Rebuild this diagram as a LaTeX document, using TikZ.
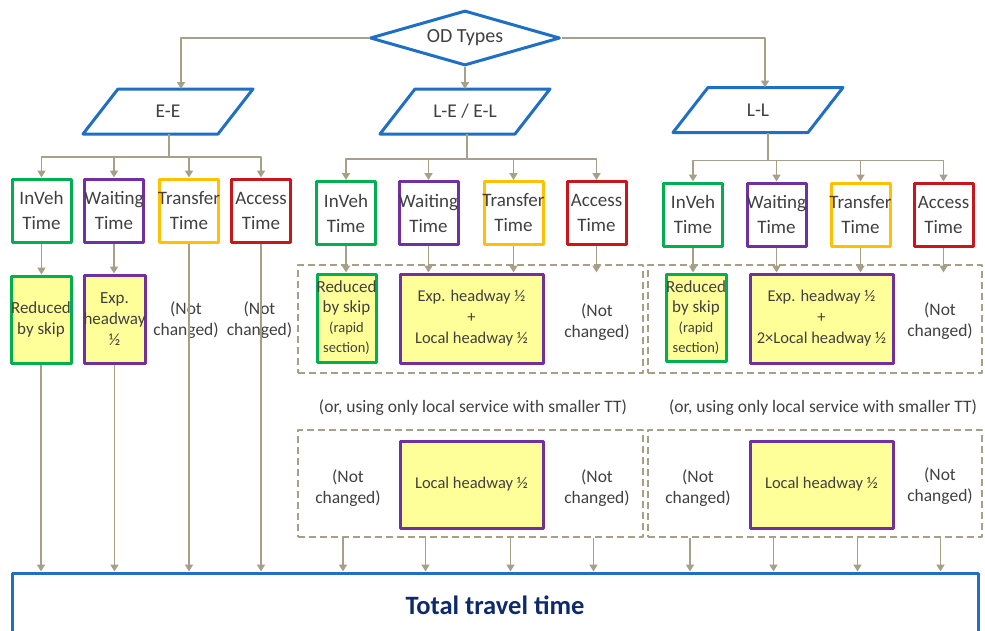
\documentclass[tikz,border=0pt]{standalone}
\usepackage{fontspec}
\setmainfont{Carlito}
\usetikzlibrary{arrows.meta,shapes.geometric}

\definecolor{flowblue}{HTML}{1F6FC4}
\definecolor{linetan}{HTML}{A79F88}
\definecolor{ingreen}{HTML}{00B050}
\definecolor{waitpurple}{HTML}{7030A0}
\definecolor{transorange}{HTML}{FFC000}
\definecolor{accred}{HTML}{C8161D}
\definecolor{hiyellow}{HTML}{FFFF99}
\definecolor{txtgray}{HTML}{404040}
\definecolor{totalnavy}{HTML}{0D2A6B}

\begin{document}
\begin{tikzpicture}[
  x=1pt, y=-1pt,
  line join=round,
  every node/.style={text=txtgray},
  conn/.style={draw=linetan, line width=1.9pt, -{Triangle[length=7pt,width=8pt]}},
  link/.style={draw=linetan, line width=1.9pt},
  decision/.style={diamond, aspect=3.45, draw=flowblue, line width=3pt,
    minimum width=190pt, minimum height=55pt, inner sep=0pt,
    font=\fontsize{20}{24}\selectfont},
  odtype/.style={minimum width=170pt, minimum height=45pt, inner sep=0pt,
    outer sep=0pt, font=\fontsize{19.5}{24}\selectfont},
  slanted/.style={draw=flowblue, line width=3pt},
  timebox/.style={draw=#1, line width=3pt, minimum width=59pt,
    minimum height=63pt, inner sep=0pt, align=center,
    font=\fontsize{19}{25}\selectfont},
  effbox/.style={draw=#1, fill=hiyellow, line width=3pt, inner sep=0pt,
    align=center, font=\fontsize{16.5}{21}\selectfont},
  note/.style={align=center, inner sep=0pt, font=\fontsize{17.5}{21}\selectfont},
  option/.style={draw=linetan, line width=2.4pt, dash pattern=on 7pt off 4pt,
    inner sep=0pt}
]
  \clip (0,0) rectangle (985,630);

  % OD types
  \node[decision] (od) at (465,38) {OD Types};
  \node[odtype] (ee) at (168,111.5) {E-E};
  \node[odtype] (lel) at (465,111.5) {L-E / E-L};
  \node[odtype] (ll) at (758,110) {L-L};
  \foreach \n in {ee,lel,ll}
    \draw[slanted] ([xshift=35pt]\n.north west) -- (\n.north east)
      -- ([xshift=-35pt]\n.south east) -- (\n.south west) -- cycle;

  \draw[conn] (od.west) -| ([xshift=13pt]ee.north);
  \draw[conn] (od.south) -- (lel.north);
  \draw[conn] (od.east) -| ([xshift=7pt]ll.north);

  % Time components, E-E
  \node[timebox=ingreen] (eeIn) at (41.5,210.5) {InVeh\\Time};
  \node[timebox=waitpurple] (eeWt) at (114,210.5) {\makebox[0pt]{Waiting}\\Time};
  \node[timebox=transorange] (eeTr) at (189,210.5) {\makebox[0pt]{Transfer}\\Time};
  \node[timebox=accred] (eeAc) at (261,210.5) {Access\\Time};

  % Time components, L-E / E-L
  \node[timebox=ingreen] (lelIn) at (346,213) {InVeh\\Time};
  \node[timebox=waitpurple] (lelWt) at (428.5,213) {\makebox[0pt]{Waiting}\\Time};
  \node[timebox=transorange] (lelTr) at (513.5,213) {\makebox[0pt]{Transfer}\\Time};
  \node[timebox=accred] (lelAc) at (596.5,213) {Access\\Time};

  % Time components, L-L
  \node[timebox=ingreen] (llIn) at (693,214.5) {InVeh\\Time};
  \node[timebox=waitpurple] (llWt) at (776.5,214.5) {\makebox[0pt]{Waiting}\\Time};
  \node[timebox=transorange] (llTr) at (860.5,214.5) {\makebox[0pt]{Transfer}\\Time};
  \node[timebox=accred] (llAc) at (943.5,214.5) {Access\\Time};

  \draw[link] ([xshift=1pt]ee.south) -- ++(0,23) coordinate (eeBus);
  \draw[link] ([xshift=2pt]lel.south) -- ++(0,25) coordinate (lelBus);
  \draw[link] ([xshift=10pt]ll.south) -- ++(0,28) coordinate (llBus);
  \foreach \n in {eeIn,eeWt,eeTr,eeAc}
    \draw[conn] (eeBus) -| (\n.north);
  \foreach \n in {lelIn,lelWt,lelTr,lelAc}
    \draw[conn] (lelBus) -| (\n.north);
  \foreach \n in {llIn,llWt,llTr,llAc}
    \draw[conn] (llBus) -| (\n.north);

  % Total travel time
  \node[draw=flowblue, line width=3pt, minimum width=966pt, minimum height=64pt,
    font=\bfseries\fontsize{26.5}{30}\selectfont, text=totalnavy]
    (total) at (495,605) {Total travel time};

  % Effects, E-E
  \node[effbox=ingreen, minimum width=60pt, minimum height=87pt,
    font=\fontsize{17}{21}\selectfont] (eeRd) at (41,319.5)
    {\makebox[0pt]{Reduced}\\by skip};
  \node[effbox=waitpurple, minimum width=61pt, minimum height=88pt,
    font=\fontsize{17}{21}\selectfont] (eeEx) at (114.5,319)
    {Exp.\\\makebox[0pt]{headway}\\½};
  \node[note] (eeTrN) at (186,320) {(Not\\changed)};
  \node[note] (eeAcN) at (259.5,320) {(Not\\changed)};

  \draw[conn] (eeIn.south) -- (eeIn.south |- eeRd.north);
  \draw[conn] (eeWt.south) -- (eeWt.south |- eeEx.north);
  \draw[conn] (eeRd.south) -- (eeRd.south |- total.north);
  \draw[conn] (eeEx.south) -- (eeEx.south |- total.north);
  \draw[conn] (eeTr.south) -- (eeTr.south |- total.north);
  \draw[conn] (eeAc.south) -- (eeAc.south |- total.north);

  % Effects, L-E / E-L: express with transfer
  \node[option, minimum width=345pt, minimum height=108pt] (lelOpt) at (470.5,319) {};
  \node[effbox=ingreen, minimum width=59pt, minimum height=88pt,
    font=\fontsize{17}{20}\selectfont] (lelRd) at (346.5,318)
    {\makebox[0pt]{Reduced}\\by skip\\{\fontsize{14.5}{19}\selectfont (rapid}\\{\fontsize{14.5}{19}\selectfont section)}};
  \node[effbox=waitpurple, minimum width=143pt, minimum height=89pt] (lelEx)
    at (471.5,318.5) {Exp. headway ½\\+\\Local headway ½};
  \node[note] (lelAcN) at (597,322) {(Not\\changed)};

  \draw[conn] (lelIn.south) -- (lelIn.south |- lelRd.north);
  \draw[conn] (lelWt.south) -- (lelWt.south |- lelEx.north);
  \draw[conn] (lelTr.south) -- (lelTr.south |- lelEx.north);
  \draw[conn] (lelAc.south) -- (lelAc.south |- lelRd.north);

  % L-E / E-L: local service only
  \node[note] (lelOr) at (473,408) {(or, using only local service with smaller TT)};
  \node[option, minimum width=345pt, minimum height=107pt] (lelAlt) at (470.5,483.5) {};
  \node[effbox=waitpurple, minimum width=143pt, minimum height=87pt] (lelLoc)
    at (471.5,484.5) {Local headway ½};
  \node[note] (lelAltIn) at (348,488) {(Not\\changed)};
  \node[note] (lelAltAc) at (597,488) {(Not\\changed)};

  \foreach \n in {lelIn,lelWt,lelTr,lelAc}
    \draw[conn] ([xshift=-3pt]\n.south |- lelAlt.south) -- ([xshift=-3pt]\n.south |- total.north);

  % Effects, L-L: express with transfer
  \node[option, minimum width=334pt, minimum height=108pt] (llOpt) at (815,319) {};
  \node[effbox=ingreen, minimum width=60pt, minimum height=87pt,
    font=\fontsize{17}{20}\selectfont] (llRd) at (696,317.5)
    {\makebox[0pt]{Reduced}\\by skip\\{\fontsize{14.5}{19}\selectfont (rapid}\\{\fontsize{14.5}{19}\selectfont section)}};
  \node[effbox=waitpurple, minimum width=143pt, minimum height=89pt] (llEx)
    at (821.5,318.5) {Exp. headway ½\\+\\2×Local headway ½};
  \node[note] (llAcN) at (940,321) {(Not\\changed)};

  \draw[conn] (llIn.south) -- (llIn.south |- llRd.north);
  \draw[conn] (llWt.south) -- (llWt.south |- llEx.north);
  \draw[conn] (llTr.south) -- (llTr.south |- llEx.north);
  \draw[conn] (llAc.south) -- (llAc.south |- llRd.north);

  % L-L: local service only
  \node[note] (llOr) at (823,408) {(or, using only local service with smaller TT)};
  \node[option, minimum width=334pt, minimum height=107pt] (llAlt) at (815,483.5) {};
  \node[effbox=waitpurple, minimum width=143pt, minimum height=87pt] (llLoc)
    at (821.5,484.5) {Local headway ½};
  \node[note] (llAltIn) at (698,488) {(Not\\changed)};
  \node[note] (llAltAc) at (940,486) {(Not\\changed)};

  \foreach \n in {llIn,llWt,llTr,llAc}
    \draw[conn] ([xshift=-3pt]\n.south |- llAlt.south) -- ([xshift=-3pt]\n.south |- total.north);
\end{tikzpicture}
\end{document}
